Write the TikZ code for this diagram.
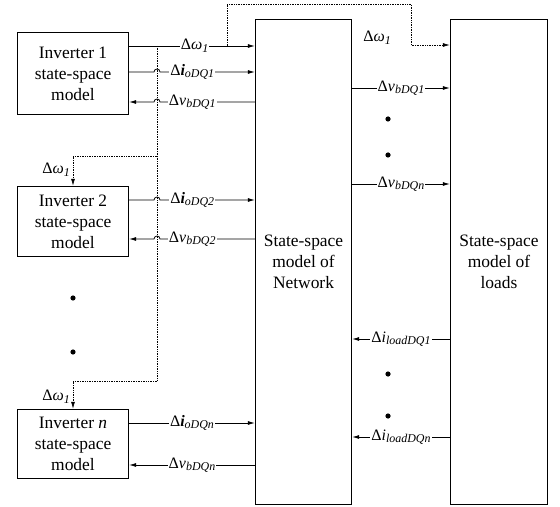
\documentclass[tikz,border=0pt]{standalone}
\usepackage{fontspec}
\setmainfont{Liberation Serif}
\usetikzlibrary{arrows.meta}
\newcommand{\subsc}[1]{\raisebox{-0.35ex}{\fontsize{12}{13}\selectfont\textit{#1}}}
\tikzset{
        block/.style={draw=black, line width=0.8pt, align=center, inner sep=0pt,
          font=\rmfamily\fontsize{17.5}{21}\selectfont},
        sig/.style={draw=black, line width=0.8pt, -{Latex[length=7pt,width=4pt]}},
        fb/.style={draw=black, line width=0.7pt, densely dotted},
        fbarrow/.style={fb, -{Latex[length=7pt,width=4pt]}},
        lbl/.style={fill=white, inner sep=1pt, font=\rmfamily\fontsize{16}{18}\selectfont},
        freelbl/.style={inner sep=1pt, font=\rmfamily\fontsize{16}{18}\selectfont},
        dot/.style={fill=black}
          }

\begin{document}
\begin{tikzpicture}
        [x=1bp, y=-1bp]
        \useasboundingbox (0,0) rectangle (560,507);
        \node[block, minimum width=112, minimum height=83] (inv1) at (73,73.5)
          {Inverter 1\\state-space\\model};
        \node[block, minimum width=112, minimum height=71] (inv2) at (73,221.5)
          {Inverter 2\\state-space\\model};
        \node[block, minimum width=112, minimum height=70] (invn) at (73,444)
          {Inverter \textit{n}\\state-space\\model};
        \node[block, minimum width=97, minimum height=487] (net) at (303.5,261.5)
          {State-space\\model of\\Network};
        \node[block, minimum width=98, minimum height=487] (load) at (499,261.5)
          {State-space\\model of\\loads};
        \coordinate (tap1) at (227,46);
        \coordinate (tap2) at (157,46);
        \coordinate (split2) at (157,156);
        \coordinate (splitn) at (157,381);
        % inverter 1
        \draw[sig] (inv1.east |- tap1) -- (net.west |- tap1)
          node[lbl, pos=0.52] (w1) {Δ\textit{ω}\subsc{1}};
        \draw[sig] (inv1.east |- 0,72) -- (154,72) arc (180:360:3)
          -- node[lbl, pos=0.34] (io1) {Δ\textbf{\textit{i}}\subsc{oDQ1}} (net.west |- 0,72);
        \draw[sig] (net.west |- 0,102) -- node[lbl, pos=0.66] (vb1) {Δ\textit{v}\subsc{bDQ1}}
          (160,102) arc (0:-180:3) -- (inv1.east |- 0,102);
        % inverter 2
        \draw[sig] (inv2.east |- 0,200) -- (154,200) arc (180:360:3)
          -- node[lbl, pos=0.34] (io2) {Δ\textbf{\textit{i}}\subsc{oDQ2}} (net.west |- 0,200);
        \draw[sig] (net.west |- 0,239) -- node[lbl, pos=0.66] (vb2) {Δ\textit{v}\subsc{bDQ2}}
          (160,239) arc (0:-180:3) -- (inv2.east |- 0,239);
        % inverter n
        \draw[sig] (invn.east |- 0,423) -- (net.west |- 0,423)
          node[lbl, pos=0.5] (ion) {Δ\textbf{\textit{i}}\subsc{oDQn}};
        \draw[sig] (net.west |- 0,465) -- (invn.east |- 0,465)
          node[lbl, pos=0.5] (vbn) {Δ\textit{v}\subsc{bDQn}};
        % frequency feedback
        \draw[fbarrow] (tap1) -- (227,4) -- (411,4) -- (411,45) -- (load.west |- 0,45);
        \node[freelbl] (wtop) at (377,38) {Δ\textit{ω}\subsc{1}};
        \draw[fb] (tap2) -- (splitn);
        \draw[fbarrow] (split2) -| (inv2.north);
        \draw[fbarrow] (splitn) -| (invn.north);
        \node[freelbl, anchor=east] (w2) at (71,170) {Δ\textit{ω}\subsc{1}};
        \node[freelbl, anchor=east] (wn) at (71,397) {Δ\textit{ω}\subsc{1}};
        % network to loads
        \draw[sig] (net.east |- 0,88) -- (load.west |- 0,88)
          node[lbl, pos=0.5] (vbl1) {Δ\textit{v}\subsc{bDQ1}};
        \draw[sig] (net.east |- 0,184) -- (load.west |- 0,184)
          node[lbl, pos=0.5] (vbln) {Δ\textit{v}\subsc{bDQn}};
        \draw[sig] (load.west |- 0,339) -- (net.east |- 0,339)
          node[lbl, pos=0.5] (il1) {Δ\textit{i}\subsc{loadDQ1}};
        \draw[sig] (load.west |- 0,437) -- (net.east |- 0,437)
          node[lbl, pos=0.5] (iln) {Δ\textit{i}\subsc{loadDQn}};
        \foreach \y in {298,352}
          \fill[dot] (73,\y) circle (2.6);
        \foreach \y in {119,155,374,416}
          \fill[dot] (388,\y) circle (2.6);
\end{tikzpicture}
\end{document}
